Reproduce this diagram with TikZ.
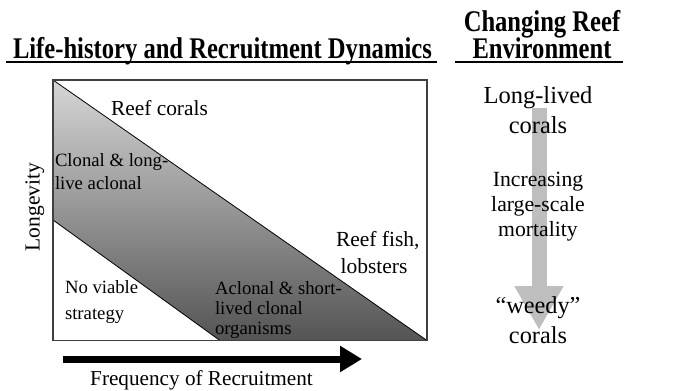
\documentclass[tikz,border=0pt]{standalone}
\usepackage{fontspec}
\usepackage{graphicx}
\setmainfont{Liberation Serif}
\usetikzlibrary{arrows.meta}
\newcommand{\myfs}[1]{\fontsize{#1}{#1}\selectfont}
\newcommand{\ttl}[1]{\scalebox{0.82}[1]{\bfseries\myfs{30}#1}}
\definecolor{shtop}{RGB}{214,214,214}
\definecolor{shbot}{RGB}{84,84,84}
\definecolor{arrgray}{RGB}{190,190,190}
\begin{document}
\begin{tikzpicture}[x=1pt,y=-1pt,
  lbl/.style={inner sep=0pt, outer sep=0pt, anchor=base west},
  ctr/.style={inner sep=0pt, outer sep=0pt, anchor=base},
  boxline/.style={draw=black!75, line width=1.2pt},
  diag/.style={draw=black, line width=0.8pt},
  uline/.style={draw=black, line width=1.5pt},
]
\useasboundingbox (0,0) rectangle (691,391);
% shaded band
\shade[top color=shtop, bottom color=shbot]
  (53,80) -- (427,340.5) -- (220,340.5) -- (53,220) -- cycle;
\draw[diag] (53,80) -- (427,340.5);
\draw[diag] (53,220) -- (220,340.5);
\draw[boxline] (53,80) rectangle (427,340.5);

% titles
\node[lbl] (t1) at (13,58.5) {\ttl{Life-history and Recruitment Dynamics}};
\node[ctr] (t2a) at (542,31) {\ttl{Changing Reef}};
\node[ctr] (t2b) at (542,58.5) {\ttl{Environment}};
\coordinate (u1a) at (6,62); \coordinate (u1b) at (437,62);
\coordinate (u2a) at (455,62); \coordinate (u2b) at (623,62);
\draw[uline] (u1a) -- (u1b);
\draw[uline] (u2a) -- (u2b);

% inner labels
\node[lbl] (rc) at (111,115) {\myfs{21.4}Reef corals};
\node[lbl] (cl1) at (55,166.5) {\myfs{18.7}Clonal \& long-};
\node[lbl] (cl2) at (55,189) {\myfs{18.7}live aclonal};
\node[lbl] (rf1) at (336,246) {\myfs{21.5}Reef fish,};
\node[ctr] (rf2) at (374,273) {\myfs{21.5}lobsters};
\node[lbl] (nv1) at (65,293.5) {\myfs{18.7}No viable};
\node[lbl] (nv2) at (65,319) {\myfs{18.7}strategy};
\node[lbl] (ac1) at (215,294) {\myfs{18.7}Aclonal \& short-};
\node[lbl] (ac2) at (215,314) {\myfs{18.7}lived clonal};
\node[lbl] (ac3) at (215,334.5) {\myfs{18.7}organisms};

% axis labels
\node[ctr, rotate=90] (lon) at (39.5,207) {\myfs{21.5}Longevity};
\coordinate (fa) at (62.5,359);
\coordinate (fb) at (362,359);
\draw[line width=7pt, -{Triangle[length=22pt,width=25pt]}] (fa) -- (fb);
\node[ctr] (freq) at (201.5,385) {\myfs{21.2}Frequency of Recruitment};

% right column
\coordinate (ga) at (539,108);
\coordinate (gb) at (539,330);
\draw[arrgray, line width=15pt, -{Triangle[length=44pt,width=46pt]}] (ga) -- (gb);
\node[ctr] (ll1) at (538,103) {\myfs{24.5}Long-lived};
\node[ctr] (ll2) at (538,133) {\myfs{24.5}corals};
\node[ctr] (in1) at (538,186) {\myfs{21.7}Increasing};
\node[ctr] (in2) at (538,211) {\myfs{21.7}large-scale};
\node[ctr] (in3) at (538,236) {\myfs{21.7}mortality};
\node[ctr] (wd1) at (538,313) {\myfs{24.3}“weedy”};
\node[ctr] (wd2) at (538,343) {\myfs{24.3}corals};
\end{tikzpicture}
\end{document}
